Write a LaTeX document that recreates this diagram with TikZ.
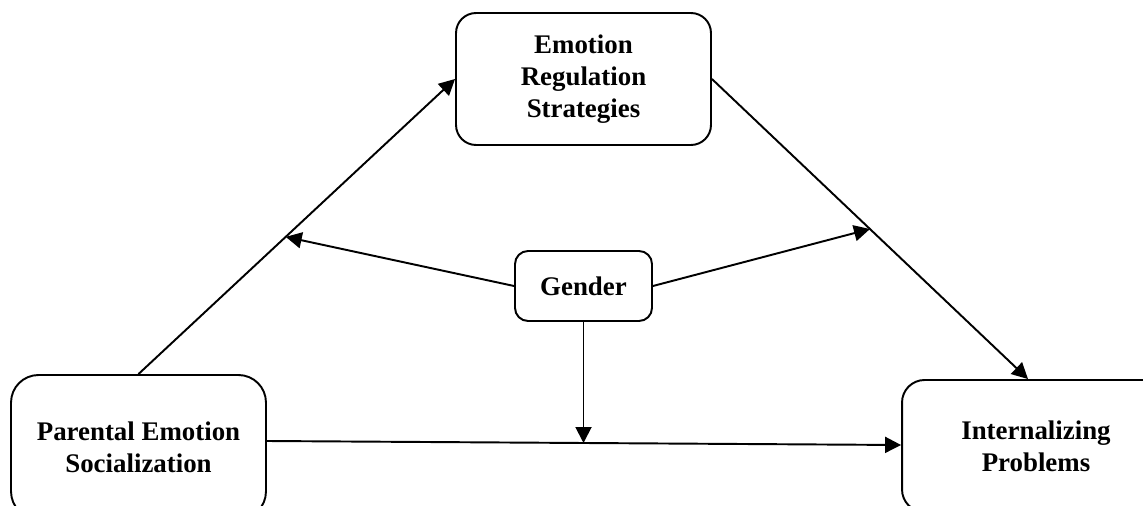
\documentclass[tikz,border=0pt]{standalone}
\usepackage{fontspec}
\setmainfont{Liberation Serif}
\usetikzlibrary{arrows.meta}

\begin{document}
\begin{tikzpicture}[x=0.02cm, y=-0.02cm,
    box/.style={draw, line width=1.1pt, rounded corners=0.4cm, align=center, inner sep=0pt,
        font=\bfseries\fontsize{15.3}{18.4}\selectfont},
    arr/.style={-{Triangle[length=0.32cm,width=0.32cm]}, line width=1.1pt}]
    \useasboundingbox (0,0) rectangle (1143,506);
    \clip (0,0) rectangle (1143,506);

    % Boxes
    \node[box, minimum width=5.1cm, minimum height=2.64cm] (ers) at (583.5,79) {Emotion\\Regulation\\Strategies};
    \node[box, minimum width=2.74cm, minimum height=1.4cm, rounded corners=0.26cm] (gen) at (583.5,286) {Gender};
    \node[box, minimum width=5.1cm, minimum height=2.88cm, rounded corners=0.55cm] (pes) at (138.5,447) {Parental Emotion\\Socialization};
    \node[box, minimum width=5.36cm, minimum height=2.64cm, rounded corners=0.45cm] (int) at (1036,446) {Internalizing\\Problems};

    % Indirect path through emotion regulation
    \draw[arr] (pes.north) -- coordinate[pos=0.465] (m1) (ers.west);
    \draw[arr] (ers.east) -- coordinate[pos=0.5] (m2) ([xshift=-0.16cm]int.north);

    % Direct path
    \draw[arr] ([yshift=0.12cm]pes.east) -- coordinate[pos=0.5] (m3) ([yshift=0.02cm]int.west);

    % Gender as moderator
    \draw[arr] (gen.west) -- (m1);
    \draw[arr] (gen.east) -- (m2);
    \draw[arr] (gen.south) -- (gen.south |- m3);
\end{tikzpicture}
\end{document}
